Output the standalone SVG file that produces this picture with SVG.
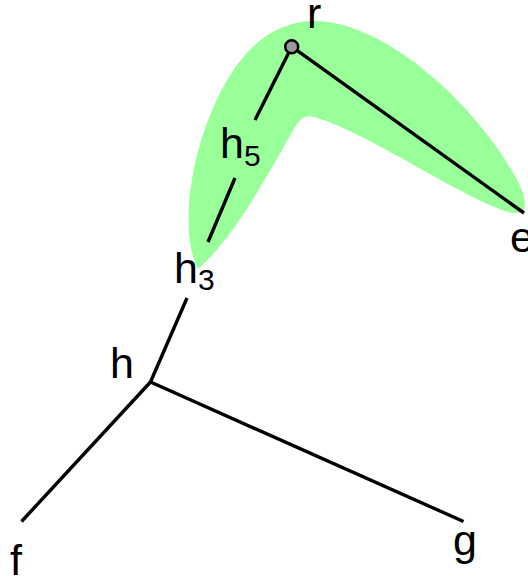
<svg xmlns="http://www.w3.org/2000/svg" width="528" height="578" viewBox="0 0 528 578">
<style>
.lbl{font-family:"Liberation Sans",Arial,sans-serif;font-size:43px;fill:#000}
.sub{font-size:30px}
.edge{stroke:#000;stroke-width:3.4;fill:none}
</style>
<rect width="528" height="578" fill="#fff"/>
<path id="blob" d="M198,269 C182,240 186,170 213,108 C233,62 264,22 313,21 C382,20 472,100 515,176 C531,205 527,217 508,212 C460,197 365,131 314,117 C302,114 298,122 291,134 C266,178 232,240 198,269 Z" fill="#99ff99"/>
<g id="connectors">
<line class="edge" x1="291.7" y1="46.7" x2="524" y2="213"/>
<line class="edge" x1="291.7" y1="46.7" x2="255" y2="120"/>
<line class="edge" x1="235" y1="178" x2="208" y2="242"/>
<line class="edge" x1="187" y1="298" x2="150.5" y2="382"/>
<line class="edge" x1="150.5" y1="382" x2="21.5" y2="521.5"/>
<line class="edge" x1="150.5" y1="382" x2="463.5" y2="521.5"/>
</g>
<g id="r"><circle cx="291.7" cy="46.7" r="6.5" fill="#999" stroke="#000" stroke-width="2.5"/><text class="lbl" x="307" y="28">r</text></g>
<g id="e"><text class="lbl" x="510" y="252">e</text></g>
<g id="h5"><text class="lbl" x="220" y="158">h<tspan class="sub" dy="8">5</tspan></text></g>
<g id="h3"><text class="lbl" x="174" y="283">h<tspan class="sub" dy="7">3</tspan></text></g>
<g id="h"><text class="lbl" x="110" y="378">h</text></g>
<g id="f"><text class="lbl" x="10" y="575">f</text></g>
<g id="g"><text class="lbl" x="453" y="555">g</text></g>
</svg>
